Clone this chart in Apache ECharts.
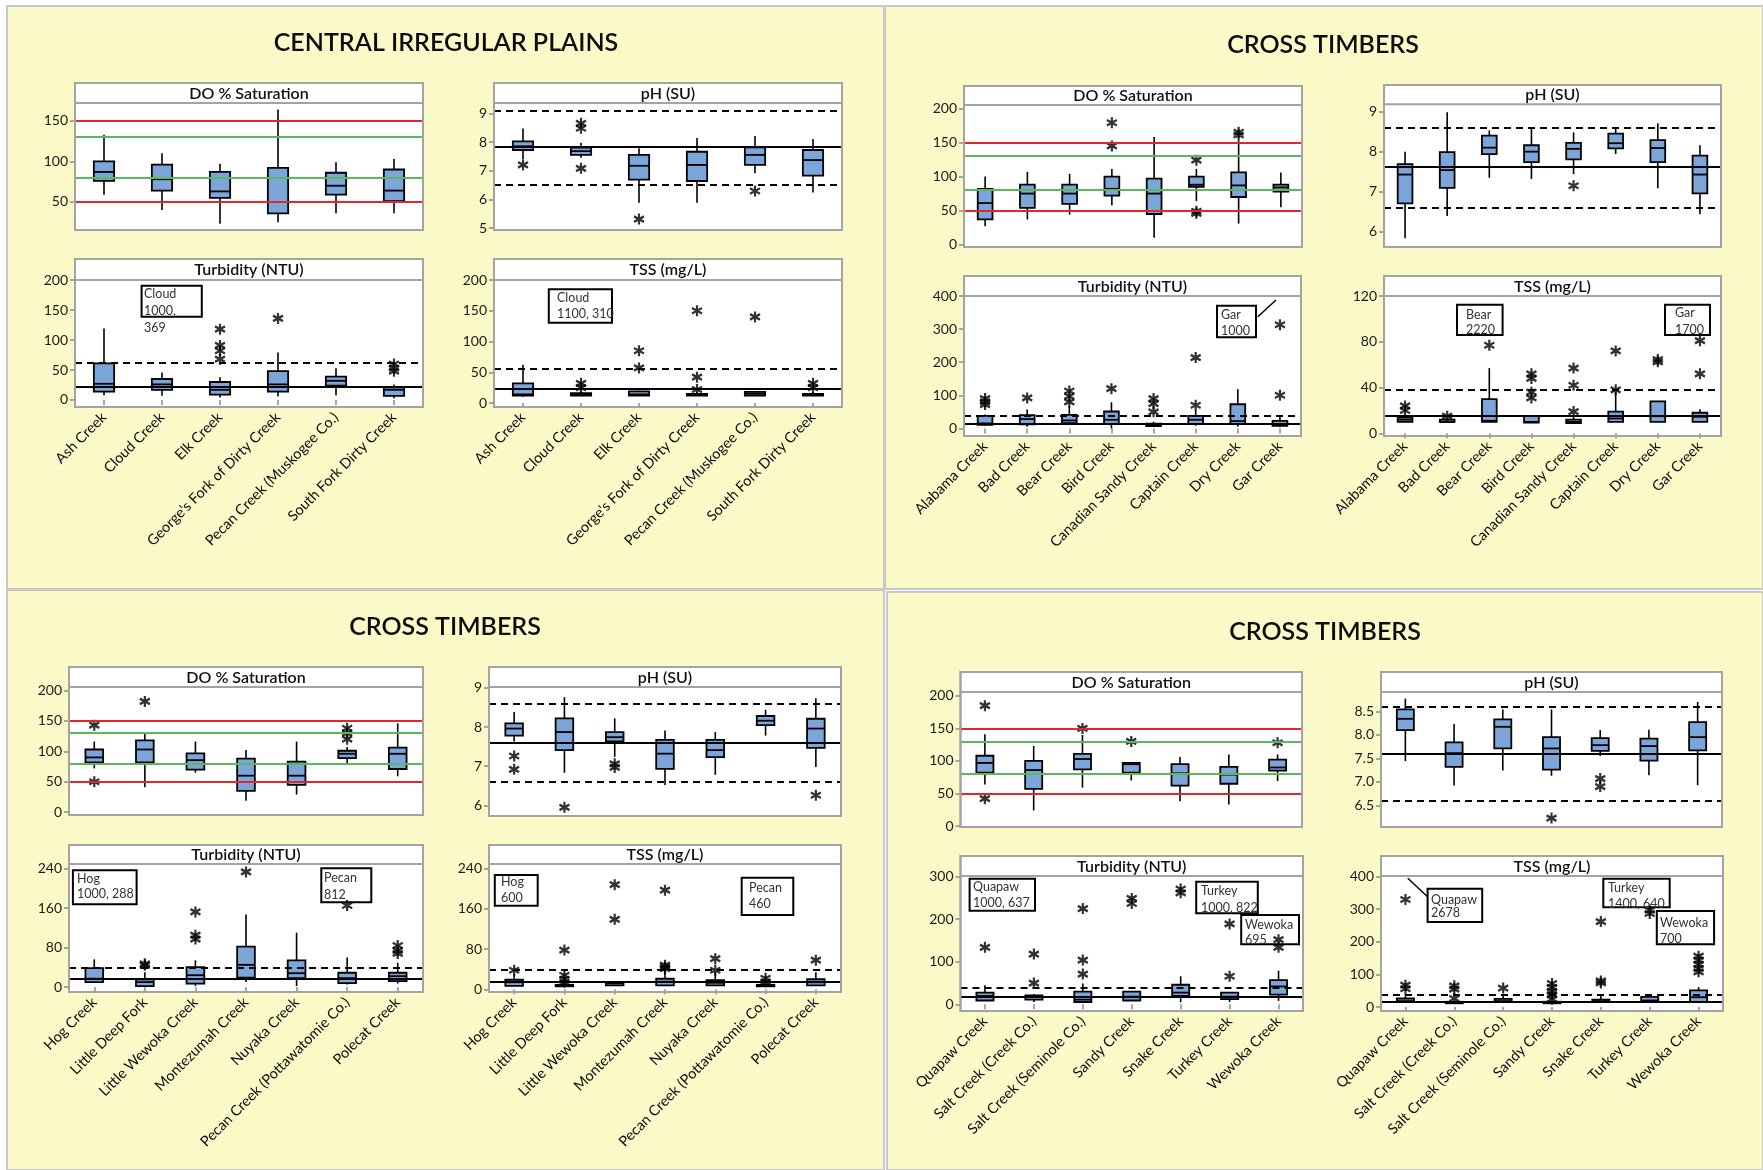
<!DOCTYPE html>
<html>
<head>
<meta charset="utf-8">
<script src="https://cdn.jsdelivr.net/npm/echarts@6/dist/echarts.min.js"></script>
<style>
html,body{margin:0;padding:0;background:#ffffff;}
#chart{width:1763px;height:1170px;}
</style>
</head>
<body>
<div id="chart"></div>
<script>
// ---------- Sites ----------
const cipSites = ['Ash Creek', 'Cloud Creek', 'Elk Creek', "George's Fork of Dirty Creek", 'Pecan Creek (Muskogee Co.)', 'South Fork Dirty Creek'];
const ct1Sites = ['Alabama Creek', 'Bad Creek', 'Bear Creek', 'Bird Creek', 'Canadian Sandy Creek', 'Captain Creek', 'Dry Creek', 'Gar Creek'];
const ct2Sites = ['Hog Creek', 'Little Deep Fork', 'Little Wewoka Creek', 'Montezumah Creek', 'Nuyaka Creek', 'Pecan Creek (Pottawatomie Co.)', 'Polecat Creek'];
const ct3Sites = ['Quapaw Creek', 'Salt Creek (Creek Co.)', 'Salt Creek (Seminole Co.)', 'Sandy Creek', 'Snake Creek', 'Turkey Creek', 'Wewoka Creek'];

// ---------- Box summaries: [low whisker, Q1, median, Q3, high whisker] ----------
// Outliers: [site index, value]
const cipDO = [[59,76,87,100,133],[40,64,78,96,110],[23,55,63,87,97],[25,36,50,92,164],[36,59,70,86,99],[36,51,64,90,103]];
const cipDOOut = [];
const cipPH = [[7.4,7.72,7.85,8.02,8.47],[7.45,7.55,7.68,7.8,7.97],[5.88,6.69,7.17,7.55,7.78],[5.88,6.64,7.2,7.66,8.14],[6.91,7.2,7.55,7.81,8.21],[6.24,6.83,7.37,7.72,8.1]];
const cipPHOut = [[0,7.2],[1,8.65],[1,8.48],[1,7.08],[2,5.31],[4,6.29]];
const cipTurb = [[8,14,27,61,119],[7,17,26,35,46],[4,9,17,30,38],[6,14,26,48,79],[8,24,32,39,53],[3,7,17,21,26]];
const cipTurbOut = [[2,118],[2,91],[2,82],[2,68],[3,136],[5,60],[5,53],[5,48]];
const cipTSS = [[10,12,14,32,62],[11,12,13,16,19],[12,12,14,19,20],[12,12,13,15,18],[12,12,15,18,19],[11,12,13,15,18]];
const cipTSSOut = [[1,32],[1,25],[2,85],[2,57],[3,150],[3,42],[3,22],[4,140],[5,32],[5,25]];

const ct1DO = [[27,37,61,82,100],[37,54,75,88,107],[44,60,75,88,104],[58,72,82,100,111],[10,45,75,97,158],[64,85,88,100,111],[31,70,87,106,153],[55,78,84,88,106]];
const ct1DOOut = [[3,179],[3,145],[5,124],[5,49],[5,46],[6,165],[6,161]];
const ct1PH = [[5.84,6.71,7.43,7.69,8.0],[6.4,7.1,7.54,7.99,8.98],[7.35,7.94,8.1,8.4,8.53],[7.32,7.74,8.0,8.16,8.6],[7.44,7.81,8.07,8.22,8.48],[7.94,8.08,8.21,8.45,8.6],[7.09,7.74,8.09,8.29,8.71],[6.44,6.96,7.43,7.9,8.16]];
const ct1PHOut = [[4,7.15]];
const ct1Turb = [[8,11,15,38,42],[5,12,28,40,57],[10,16,24,41,67],[0,13,26,51,79],[5,7,10,14,20],[8,13,26,38,55],[5,13,22,73,118],[5,8,13,23,38]];
const ct1TurbOut = [[0,90],[0,80],[0,72],[1,92],[2,113],[2,97],[2,80],[3,120],[4,90],[4,75],[4,50],[5,214],[5,70],[7,313],[7,100]];
const ct1TSS = [[10,10,12,14,16],[10,10,10,12,13],[10,10,11,30,57],[9.5,9.5,10,15,15],[9,9,10,12,16],[10,10,13,19,36],[10,10,15,28,28],[10,10,14.5,18,21]];
const ct1TSSOut = [[0,24],[0,20],[1,15],[2,77],[3,52],[3,48],[3,36],[3,31],[4,57],[4,42],[4,19],[5,72],[5,38],[6,64.5],[6,62.5],[7,81],[7,52]];

const ct2DO = [[72,82,90,103,116],[41,82,103,118,129],[65,70,85.5,96.5,116],[19,35,60,88,102],[29,45,60,83,116],[81,89,96,101,107],[59,71,96,106,146]];
const ct2DOOut = [[0,143],[0,50],[1,182],[5,138],[5,130],[5,120]];
const ct2PH = [[7.63,7.78,7.96,8.09,8.38],[6.83,7.41,7.87,8.22,8.76],[7.24,7.63,7.74,7.87,8.22],[6.52,6.93,7.32,7.67,7.91],[6.78,7.23,7.41,7.67,7.87],[7.78,8.05,8.16,8.28,8.44],[6.98,7.47,7.96,8.21,8.73]];
const ct2PHOut = [[0,7.26],[0,6.92],[1,5.95],[2,7.06],[2,6.97],[6,6.26]];
const ct2Turb = [[10,10,17,38.5,56],[2,2,10,15.5,30],[2,7,24,40.5,54],[10,19,45,82,147],[2,18,28,54,110],[5,8,18,29,60],[7,12,22,29,49]];
const ct2TurbOut = [[1,44],[1,47],[2,152],[2,105],[2,97],[3,233],[5,165],[6,84],[6,74],[6,68]];
const ct2TSS = [[7,7,14,19,30],[7,8,8,9,10],[8,8,12,15,16],[8,8,15,21,38],[8,8,13,18,34],[8,8,8,9,10],[8,8,14,20,34]];
const ct2TSSOut = [[0,38],[1,78],[1,28],[1,20],[1,14],[2,208],[2,139],[3,197],[3,48],[3,44],[3,41],[4,61],[4,38],[5,22],[5,15],[6,58]];

const ct3DO = [[64,82,97,108,141],[24,57,86,100,123],[59,87,103,111,140],[70,82,95,97,97],[38,62,81,95,106],[33,65,79,91,110],[69,85,90,102,110]];
const ct3DOOut = [[0,185],[0,42],[2,150],[3,130],[6,128]];
const ct3PH = [[7.44,8.1,8.34,8.54,8.77],[6.92,7.32,7.61,7.84,8.23],[7.24,7.71,8.17,8.33,8.54],[7.13,7.26,7.71,7.95,8.54],[7.55,7.66,7.78,7.93,8.1],[7.14,7.45,7.76,7.92,8.11],[6.93,7.67,7.95,8.27,8.7]];
const ct3PHOut = [[3,6.23],[4,7.07],[4,6.9]];
const ct3Turb = [[9,9,19.6,27.5,45],[5.5,11,18,21,24],[3,5.5,11,30,49],[9,9,18,30,30],[5,20,27.5,46,66],[5.5,12,18,27.5,29],[8,23,42,57,79]];
const ct3TurbOut = [[0,134],[1,118],[1,50],[2,225],[2,104],[2,71],[3,249],[3,237],[4,271],[4,262],[5,189],[5,66],[6,152],[6,134]];
const ct3TSS = [[15,15,18,26,39],[12,14,15,16,18],[15,15,18,25,40],[12,14,15,16,18],[15,15,18,22.6,36],[15,15,20,31,31],[15,15,30,51,61]];
const ct3TSSOut = [[0,330],[0,67],[0,56],[1,65],[1,55],[1,26],[2,58],[3,72],[3,60],[3,48],[3,38],[3,24],[4,262],[4,80],[4,74],[5,297],[5,287],[6,156],[6,144],[6,131],[6,118],[6,108]];

// ---------- Tick labels ----------
const cipDOTicks = [50, 100, 150];
const cipPHTicks = [5, 6, 7, 8, 9];
const cipTurbTicks = [0, 50, 100, 150, 200];
const cipTSSTicks = [0, 50, 100, 150, 200];
const ct1DOTicks = [0, 50, 100, 150, 200];
const ct1PHTicks = [6, 7, 8, 9];
const ct1TurbTicks = [0, 100, 200, 300, 400];
const ct1TSSTicks = [0, 40, 80, 120];
const ct2DOTicks = [0, 50, 100, 150, 200];
const ct2PHTicks = [6, 7, 8, 9];
const ct2TurbTicks = [0, 80, 160, 240];
const ct2TSSTicks = [0, 80, 160, 240];
const ct3DOTicks = [0, 50, 100, 150, 200];
const ct3PHTicks = [6.5, 7.0, 7.5, 8.0, 8.5];
const ct3TurbTicks = [0, 100, 200, 300];
const ct3TSSTicks = [0, 100, 200, 300, 400];

// ---------- Reference levels ----------
const doLimits = [50, 150];      // red criteria lines
const doTargets = [80, 130];     // green lines
const cipPHBounds = [6.5, 9.1];   const cipPHTypical = [7.83];
const cipTurbScreen = [62];       const cipTurbTypical = [22];
const cipTSSScreen = [55];        const cipTSSTypical = [23];
const ct1PHBounds = [6.6, 8.6];   const ct1PHTypical = [7.62];
const ct1TurbScreen = [38];       const ct1TurbTypical = [14];
const ct1TSSScreen = [38.5];      const ct1TSSTypical = [15];
const ct2PHBounds = [6.6, 8.6];   const ct2PHTypical = [7.6];
const ct2TurbScreen = [38.5];     const ct2TurbTypical = [17];
const ct2TSSScreen = [38.5];      const ct2TSSTypical = [16];
const ct3PHBounds = [6.6, 8.6];   const ct3PHTypical = [7.6];
const ct3TurbScreen = [38.5];     const ct3TurbTypical = [17.3];
const ct3TSSScreen = [39];        const ct3TSSTypical = [15];

// ---------- Off-scale value notes ----------
const cipTurbNote = ['Cloud', '1000,', '369'];
const cipTSSNote = ['Cloud', '1100, 310'];
const ct1TurbNote = ['Gar', '1000'];
const ct1TSSNoteA = ['Bear', '2220'];
const ct1TSSNoteB = ['Gar', '1700'];
const ct2TurbNoteA = ['Hog', '1000, 288'];
const ct2TurbNoteB = ['Pecan', '812'];
const ct2TSSNoteA = ['Hog', '600'];
const ct2TSSNoteB = ['Pecan', '460'];
const ct3TurbNoteA = ['Quapaw', '1000, 637'];
const ct3TurbNoteB = ['Turkey', '1000, 822'];
const ct3TurbNoteC = ['Wewoka', '695'];
const ct3TSSNoteA = ['Quapaw', '2678'];
const ct3TSSNoteB = ['Turkey', '1400, 640'];
const ct3TSSNoteC = ['Wewoka', '700'];

// ---------- Layout ----------
const FONT = 'Lato, "Noto Sans", sans-serif';
const PANEL_BG = '#fcf9c9';
const FRAME = '#a3a3a3';
const BOX_FILL = '#7ca6d9';

const panels = [
  {rect: [7, 6, 884, 589], title: 'CENTRAL IRREGULAR PLAINS', tx: 446, ty: 43},
  {rect: [885, 6, 1763, 589], title: 'CROSS TIMBERS', tx: 1323, ty: 45},
  {rect: [7, 590, 884, 1170], title: 'CROSS TIMBERS', tx: 445, ty: 627},
  {rect: [887, 592, 1763, 1170], title: 'CROSS TIMBERS', tx: 1325, ty: 632}
];

const cells = [
  // Central Irregular Plains
  {sites: cipSites, box: cipDO, out: cipDOOut, head: 'DO % Saturation', ticks: cipDOTicks, dec: 0, x: [75, 423], y: [83, 103, 230], min: 15.4, max: 172, names: false, red: doLimits, green: doTargets},
  {sites: cipSites, box: cipPH, out: cipPHOut, head: 'pH (SU)', ticks: cipPHTicks, dec: 0, x: [494, 842], y: [83, 103, 230], min: 4.93, max: 9.36, names: false, dashed: cipPHBounds, solid: cipPHTypical},
  {sites: cipSites, box: cipTurb, out: cipTurbOut, head: 'Turbidity (NTU)', ticks: cipTurbTicks, dec: 0, x: [75, 423], y: [259, 280, 407], min: -11.7, max: 200, names: true, dashed: cipTurbScreen, solid: cipTurbTypical},
  {sites: cipSites, box: cipTSS, out: cipTSSOut, head: 'TSS (mg/L)', ticks: cipTSSTicks, dec: 0, x: [494, 842], y: [259, 280, 407], min: -6.5, max: 200, names: true, dashed: cipTSSScreen, solid: cipTSSTypical},
  // Cross Timbers (upper right)
  {sites: ct1Sites, box: ct1DO, out: ct1DOOut, head: 'DO % Saturation', ticks: ct1DOTicks, dec: 0, x: [964, 1302], y: [86, 105, 247], min: -3.4, max: 205, names: false, red: doLimits, green: doTargets},
  {sites: ct1Sites, box: ct1PH, out: ct1PHOut, head: 'pH (SU)', ticks: ct1PHTicks, dec: 0, x: [1384, 1721], y: [85, 104.3, 247], min: 5.625, max: 9.18, names: false, dashed: ct1PHBounds, solid: ct1PHTypical},
  {sites: ct1Sites, box: ct1Turb, out: ct1TurbOut, head: 'Turbidity (NTU)', ticks: ct1TurbTicks, dec: 0, x: [964, 1301], y: [276, 296, 436], min: -23, max: 400, names: true, dashed: ct1TurbScreen, solid: ct1TurbTypical},
  {sites: ct1Sites, box: ct1TSS, out: ct1TSSOut, head: 'TSS (mg/L)', ticks: ct1TSSTicks, dec: 0, x: [1384, 1721], y: [276, 296, 436], min: -2.3, max: 120, names: true, dashed: ct1TSSScreen, solid: ct1TSSTypical},
  // Cross Timbers (lower left)
  {sites: ct2Sites, box: ct2DO, out: ct2DOOut, head: 'DO % Saturation', ticks: ct2DOTicks, dec: 0, x: [69, 423], y: [667, 687, 815], min: -4.6, max: 205.7, names: false, red: doLimits, green: doTargets},
  {sites: ct2Sites, box: ct2PH, out: ct2PHOut, head: 'pH (SU)', ticks: ct2PHTicks, dec: 0, x: [489, 841], y: [667, 687, 816], min: 5.73, max: 9.02, names: false, dashed: ct2PHBounds, solid: ct2PHTypical},
  {sites: ct2Sites, box: ct2Turb, out: ct2TurbOut, head: 'Turbidity (NTU)', ticks: ct2TurbTicks, dec: 0, x: [69, 423], y: [845, 864, 992], min: -10, max: 249, names: true, dashed: ct2TurbScreen, solid: ct2TurbTypical},
  {sites: ct2Sites, box: ct2TSS, out: ct2TSSOut, head: 'TSS (mg/L)', ticks: ct2TSSTicks, dec: 0, x: [489, 841], y: [845, 864, 992], min: -5.3, max: 249, names: true, dashed: ct2TSSScreen, solid: ct2TSSTypical},
  // Cross Timbers (lower right)
  {sites: ct3Sites, box: ct3DO, out: ct3DOOut, head: 'DO % Saturation', ticks: ct3DOTicks, dec: 0, x: [960.5, 1302], y: [672, 692, 827], min: -1.5, max: 206, names: false, red: doLimits, green: doTargets},
  {sites: ct3Sites, box: ct3PH, out: ct3PHOut, head: 'pH (SU)', ticks: ct3PHTicks, dec: 1, x: [1381, 1722], y: [672, 692, 827], min: 6.04, max: 8.91, names: false, dashed: ct3PHBounds, solid: ct3PHTypical},
  {sites: ct3Sites, box: ct3Turb, out: ct3TurbOut, head: 'Turbidity (NTU)', ticks: ct3TurbTicks, dec: 0, x: [960.5, 1303], y: [856, 876, 1011], min: -15.7, max: 301.6, names: true, dashed: ct3TurbScreen, solid: ct3TurbTypical},
  {sites: ct3Sites, box: ct3TSS, out: ct3TSSOut, head: 'TSS (mg/L)', ticks: ct3TSSTicks, dec: 0, x: [1381, 1723], y: [856, 876, 1011], min: -12.3, max: 402, names: true, dashed: ct3TSSScreen, solid: ct3TSSTypical}
];

// Note boxes: rectangle, text start x, text rows (middle), optional pointer line
const notes = [
  {lines: cipTurbNote, rect: [141.6, 285.7, 201.8, 316.7], tx: 144, ty: [294, 311, 328]},
  {lines: cipTSSNote, rect: [548.8, 289.3, 612, 322.7], tx: 557, ty: [297.5, 313.5]},
  {lines: ct1TurbNote, rect: [1217, 305.7, 1256, 337.3], tx: 1221, ty: [314.5, 330.5], pointer: [1257.8, 316.7, 1276, 300]},
  {lines: ct1TSSNoteA, rect: [1457, 304.7, 1502.6, 335], tx: 1466, ty: [314.5, 330]},
  {lines: ct1TSSNoteB, rect: [1665, 304.7, 1710, 335], tx: 1675, ty: [313, 329.5]},
  {lines: ct2TurbNoteA, rect: [72.9, 870.3, 136.6, 904.3], tx: 77, ty: [878.5, 893.5]},
  {lines: ct2TurbNoteB, rect: [321.3, 868.3, 371.3, 902.3], tx: 324, ty: [878, 895]},
  {lines: ct2TSSNoteA, rect: [494.8, 875, 537.7, 905.7], tx: 501, ty: [881.5, 898]},
  {lines: ct2TSSNoteB, rect: [741.7, 877.7, 793.3, 915], tx: 749, ty: [888, 904]},
  {lines: ct3TurbNoteA, rect: [969.6, 878.7, 1035, 910.7], tx: 973, ty: [887, 903]},
  {lines: ct3TurbNoteB, rect: [1196.2, 881.7, 1257.8, 913.3], tx: 1201, ty: [891, 907.5]},
  {lines: ct3TurbNoteC, rect: [1241.2, 915, 1299, 944.3], tx: 1245, ty: [925, 940]},
  {lines: ct3TSSNoteA, rect: [1427.6, 888.7, 1482.2, 922], tx: 1431, ty: [899.5, 913], pointer: [1427.6, 896.7, 1407.8, 878.3]},
  {lines: ct3TSSNoteB, rect: [1603.3, 878.7, 1669.7, 907.3], tx: 1608, ty: [888, 903.5]},
  {lines: ct3TSSNoteC, rect: [1656.8, 911, 1714.1, 944.3], tx: 1660, ty: [923, 938.5]}
];

// Six-armed asterisk used for outliers
const STAR = 'path://M5,0L5,10M0.7,2.5L9.3,7.5M0.7,7.5L9.3,2.5';

function renderBox(params, api) {
  const x = api.value(0);
  const lo = api.coord([x, api.value(1)]);
  const q1 = api.coord([x, api.value(2)]);
  const md = api.coord([x, api.value(3)]);
  const q3 = api.coord([x, api.value(4)]);
  const hi = api.coord([x, api.value(5)]);
  const bw = api.size([1, 0])[0] * 0.35;
  const cx = lo[0];
  return {
    type: 'group',
    children: [
      {type: 'line', shape: {x1: cx, y1: hi[1], x2: cx, y2: lo[1]}, style: {stroke: '#000', lineWidth: 1.6}},
      {type: 'rect', shape: {x: cx - bw / 2, y: q3[1], width: bw, height: Math.max(q1[1] - q3[1], 1.5)},
        style: {fill: BOX_FILL, stroke: '#000', lineWidth: 1.8}},
      {type: 'line', shape: {x1: cx - bw / 2, y1: md[1], x2: cx + bw / 2, y2: md[1]}, style: {stroke: '#000', lineWidth: 1.8}}
    ]
  };
}

const grid = [], xAxis = [], yAxis = [], series = [], graphics = [];

function textEl(x, y, text, size, color, align, weight) {
  return {
    type: 'text', x: x, y: y, z: 60,
    style: {text: text, font: (weight || 'normal') + ' ' + size + 'px ' + FONT, fill: color,
      align: align, verticalAlign: 'middle', textAlign: align, textVerticalAlign: 'middle'}
  };
}

panels.forEach(p => {
  graphics.push({type: 'rect', z: -30,
    shape: {x: p.rect[0], y: p.rect[1], width: p.rect[2] - p.rect[0], height: p.rect[3] - p.rect[1]},
    style: {fill: PANEL_BG, stroke: '#c8c8c8', lineWidth: 2}});
  graphics.push(textEl(p.tx, p.ty, p.title, 25, '#0d0d0d', 'center', '600'));
});

cells.forEach((c, i) => {
  const [x1, x2] = c.x;
  const [hTop, pTop, pBot] = c.y;
  grid.push({left: x1, top: pTop, width: x2 - x1, height: pBot - pTop, containLabel: false, outerBoundsMode: 'none'});
  xAxis.push({
    type: 'category', gridIndex: i, data: c.sites, boundaryGap: true,
    axisLine: {show: false},
    axisTick: {show: c.names, alignWithLabel: true, length: 5, lineStyle: {color: '#8a8a8a', width: 1.5}},
    axisLabel: {show: c.names, rotate: 45, interval: 0, fontSize: 14.5, fontFamily: FONT, color: '#0d0d0d', margin: 8, hideOverlap: false},
    splitLine: {show: false}
  });
  yAxis.push({
    type: 'value', gridIndex: i, min: c.min, max: c.max,
    axisLine: {show: false}, splitLine: {show: false},
    axisTick: {show: true, length: 5, customValues: c.ticks, lineStyle: {color: '#8a8a8a', width: 1.5}},
    axisLabel: {customValues: c.ticks, fontSize: 14, fontFamily: FONT, color: '#1a1a1a', margin: 7,
      formatter: v => v.toFixed(c.dec), showMinLabel: true, showMaxLabel: true}
  });

  // frame with header strip
  graphics.push({type: 'rect', z: -20,
    shape: {x: x1, y: hTop, width: x2 - x1, height: pBot - hTop},
    style: {fill: '#ffffff', stroke: FRAME, lineWidth: 2}});
  graphics.push({type: 'line', z: 40,
    shape: {x1: x1, y1: pTop, x2: x2, y2: pTop}, style: {stroke: FRAME, lineWidth: 2}});
  graphics.push({type: 'rect', z: 40,
    shape: {x: x1, y: hTop, width: x2 - x1, height: pBot - hTop},
    style: {fill: 'none', stroke: FRAME, lineWidth: 2}});
  graphics.push(textEl((x1 + x2) / 2, (hTop + pTop) / 2 + 0.5, c.head, 16, '#111', 'center', '600'));

  // reference lines
  const ml = [];
  (c.red || []).forEach(v => ml.push({yAxis: v, lineStyle: {color: '#e3262b', width: 2, type: 'solid'}}));
  (c.green || []).forEach(v => ml.push({yAxis: v, lineStyle: {color: '#5db85c', width: 2, type: 'solid'}}));
  (c.dashed || []).forEach(v => ml.push({yAxis: v, lineStyle: {color: '#000', width: 2, type: [7, 5]}}));
  (c.solid || []).forEach(v => ml.push({yAxis: v, lineStyle: {color: '#000', width: 2, type: 'solid'}}));
  series.push({
    type: 'line', xAxisIndex: i, yAxisIndex: i, data: [], z: 2, silent: true,
    markLine: {silent: true, symbol: 'none', animation: false, label: {show: false}, data: ml}
  });

  series.push({
    type: 'custom', xAxisIndex: i, yAxisIndex: i, z: 3, silent: true,
    renderItem: renderBox,
    encode: {x: 0, y: [1, 2, 3, 4, 5]},
    data: c.box.map((b, j) => [j].concat(b))
  });

  series.push({
    type: 'scatter', xAxisIndex: i, yAxisIndex: i, z: 4, silent: true,
    symbol: STAR, symbolSize: [10, 11],
    itemStyle: {color: 'transparent', borderColor: '#000', borderWidth: 2.3},
    data: c.out
  });
});

notes.forEach(n => {
  const [a, b, c2, d] = n.rect;
  graphics.push({type: 'rect', z: 50, shape: {x: a, y: b, width: c2 - a, height: d - b},
    style: {fill: 'none', stroke: '#000', lineWidth: 2}});
  n.lines.forEach((t, k) => graphics.push(textEl(n.tx, n.ty[k], t, 12.5, '#333', 'left')));
  if (n.pointer) {
    graphics.push({type: 'line', z: 50,
      shape: {x1: n.pointer[0], y1: n.pointer[1], x2: n.pointer[2], y2: n.pointer[3]},
      style: {stroke: '#000', lineWidth: 1.5}});
  }
});

const chart = echarts.init(document.getElementById('chart'), null, {renderer: 'canvas'});
chart.setOption({
  animation: false,
  backgroundColor: '#ffffff',
  textStyle: {fontFamily: FONT},
  grid: grid,
  xAxis: xAxis,
  yAxis: yAxis,
  series: series,
  graphic: {elements: graphics}
});
</script>
</body>
</html>
